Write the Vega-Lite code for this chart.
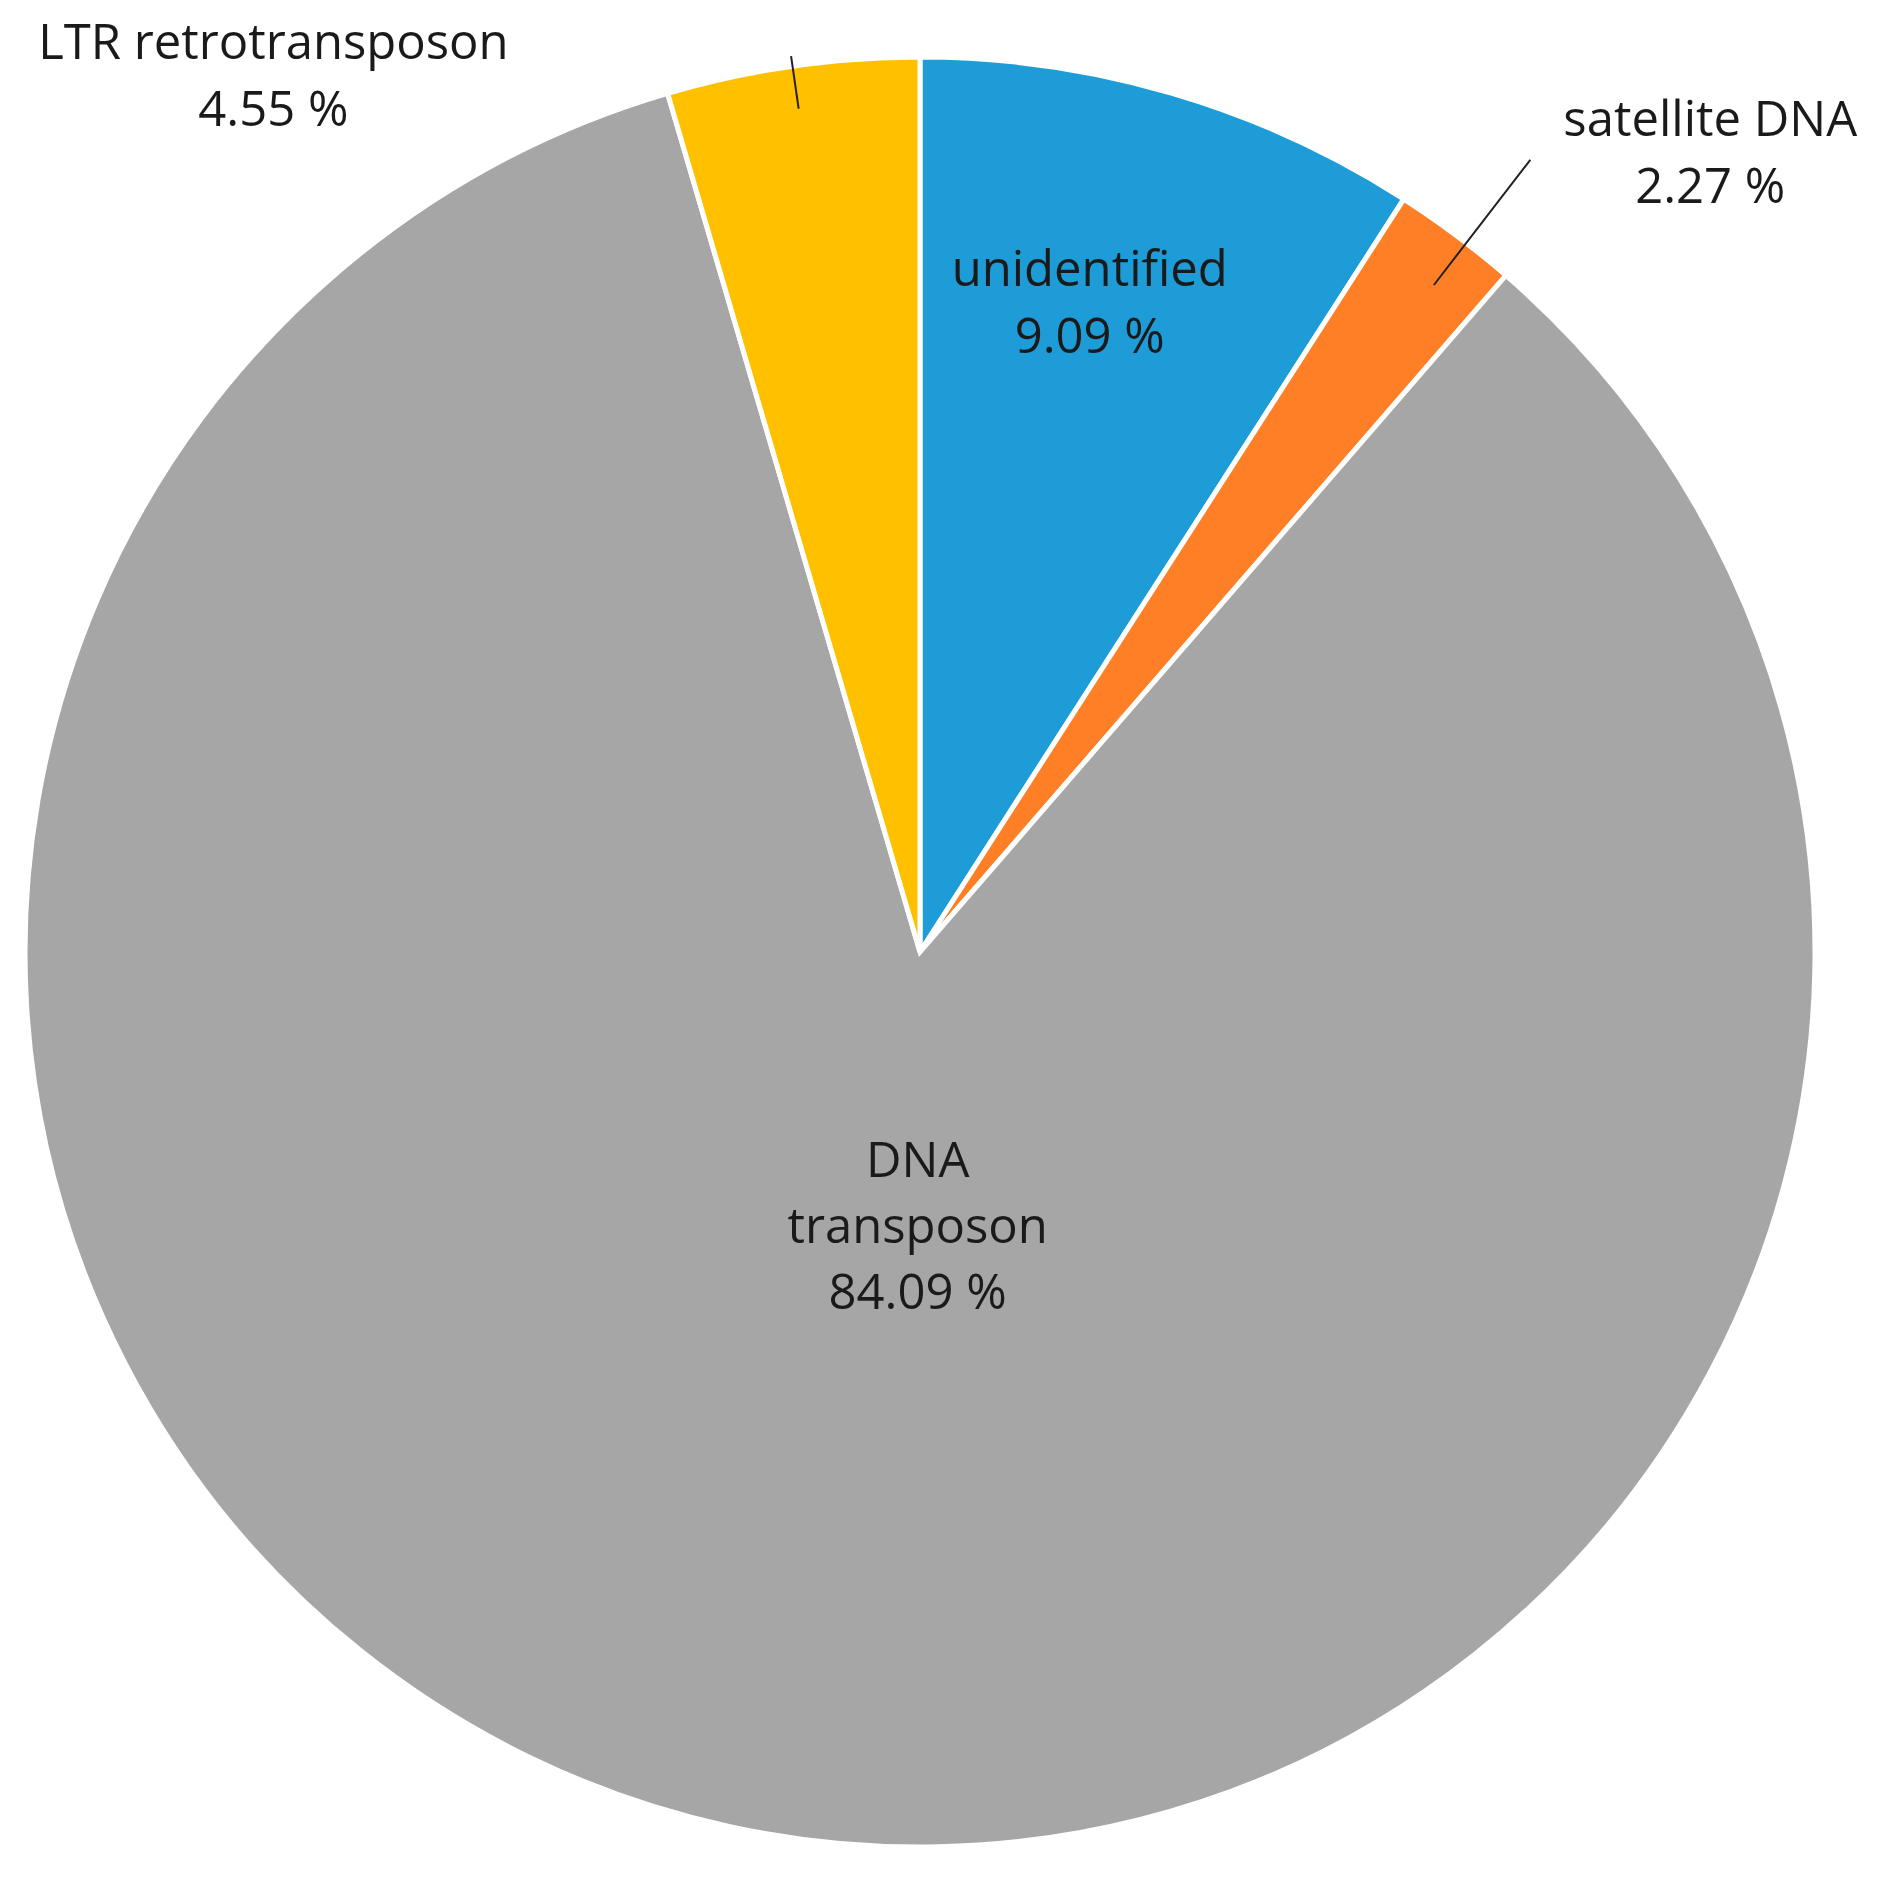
{
  "$schema": "https://vega.github.io/schema/vega-lite/v6.json",
  "width": 1790,
  "height": 1790,
  "autosize": {"type": "none"},
  "padding": {"left": 25, "top": 57, "right": 67, "bottom": 30},
  "background": "white",
  "config": {"view": {"stroke": null}},
  "data": {
    "values": [
      {"name": "unidentified", "value": 9.09, "order": 1, "label": "unidentified\n9.09 %"},
      {"name": "satellite DNA", "value": 2.27, "order": 2, "label": "satellite DNA\n2.27 %"},
      {"name": "DNA transposon", "value": 84.09, "order": 3, "label": "DNA\ntransposon\n84.09 %"},
      {"name": "LTR retrotransposon", "value": 4.55, "order": 4, "label": "LTR retrotransposon\n4.55 %"}
    ]
  },
  "encoding": {
    "theta": {"field": "value", "type": "quantitative", "stack": true},
    "order": {"field": "order", "type": "quantitative"},
    "detail": {"field": "name", "type": "nominal"}
  },
  "layer": [
    {
      "mark": {"type": "arc", "stroke": "white", "strokeWidth": 5, "strokeJoin": "miter"},
      "encoding": {
        "color": {
          "field": "name",
          "type": "nominal",
          "scale": {
            "domain": ["unidentified", "satellite DNA", "DNA transposon", "LTR retrotransposon"],
            "range": ["#1E9CD7", "#FF7F27", "#A6A6A6", "#FFC000"]
          },
          "legend": null
        }
      }
    },
    {
      "mark": {"type": "arc", "innerRadius": 842, "outerRadius": 1000, "padAngle": 3, "thetaOffset": 0.014, "filled": false, "stroke": "#222222", "strokeWidth": 2},
      "encoding": {
        "opacity": {"condition": {"test": "datum.name === 'satellite DNA'", "value": 1}, "value": 0}
      }
    },
    {
      "mark": {"type": "arc", "innerRadius": 852, "outerRadius": 905, "padAngle": 3, "filled": false, "stroke": "#222222", "strokeWidth": 2},
      "encoding": {
        "opacity": {"condition": {"test": "datum.name === 'LTR retrotransposon'", "value": 1}, "value": 0}
      }
    },
    {
      "mark": {"type": "text", "radius": 670, "dx": -19, "dy": -38, "font": "Open Sans", "fontSize": 49, "lineBreak": "\n", "lineHeight": 67, "align": "center", "baseline": "middle", "color": "#1a1a1a"},
      "encoding": {
        "text": {"field": "label", "type": "nominal"},
        "opacity": {"condition": {"test": "datum.name === 'unidentified'", "value": 1}, "value": 0}
      }
    },
    {
      "mark": {"type": "text", "radius": 1112, "dx": 124, "dy": 59, "font": "Open Sans", "fontSize": 49, "lineBreak": "\n", "lineHeight": 67, "align": "center", "baseline": "middle", "color": "#1a1a1a"},
      "encoding": {
        "text": {"field": "label", "type": "nominal"},
        "opacity": {"condition": {"test": "datum.name === 'satellite DNA'", "value": 1}, "value": 0}
      }
    },
    {
      "mark": {"type": "text", "radius": 270, "dx": 55, "dy": -54, "font": "Open Sans", "fontSize": 49, "lineBreak": "\n", "lineHeight": 66, "align": "center", "baseline": "middle", "color": "#1a1a1a"},
      "encoding": {
        "text": {"field": "label", "type": "nominal"},
        "opacity": {"condition": {"test": "datum.name === 'DNA transposon'", "value": 1}, "value": 0}
      }
    },
    {
      "mark": {"type": "text", "radius": 959, "dx": -510, "dy": 41, "font": "Open Sans", "fontSize": 49, "lineBreak": "\n", "lineHeight": 67, "align": "center", "baseline": "middle", "color": "#1a1a1a"},
      "encoding": {
        "text": {"field": "label", "type": "nominal"},
        "opacity": {"condition": {"test": "datum.name === 'LTR retrotransposon'", "value": 1}, "value": 0}
      }
    }
  ]
}
